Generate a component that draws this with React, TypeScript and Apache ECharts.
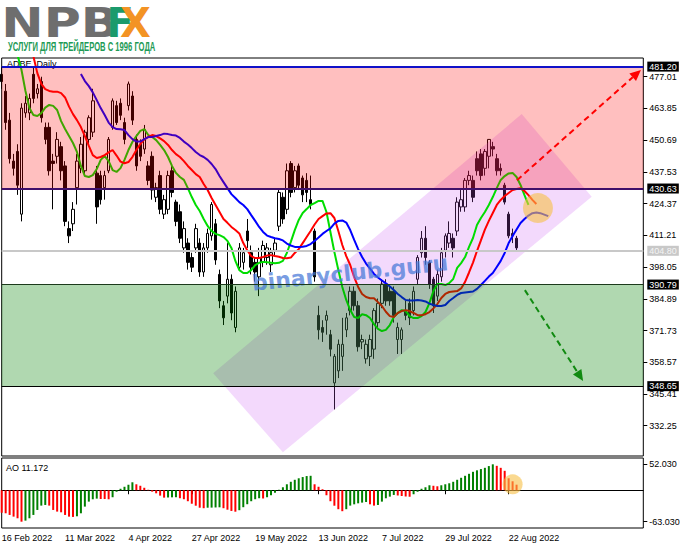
import React, { useEffect, useRef } from "react";
import * as echarts from "echarts";

// ---------------- categories (trading days) ----------------
const FIRST_DAY = "2022-02-16";
const HOLIDAYS = ["2022-02-21", "2022-04-15", "2022-05-30", "2022-06-20", "2022-07-04", "2022-09-05"];
const SLOT_COUNT = 163;
const LABEL_STEP = 16;
const MONTHS = ["Jan", "Feb", "Mar", "Apr", "May", "Jun", "Jul", "Aug", "Sep", "Oct", "Nov", "Dec"];

// ---------------- ADBE daily candles ----------------
const OPEN = [
  478, 471, 459, 442, 446, 420, 462, 462, 478, 470,
  475, 456, 456, 442, 444, 448, 440, 414, 416, 431,
  439, 438, 451, 454, 437, 436, 431, 438, 456, 465,
  466, 458, 465, 469, 451, 449, 447, 440, 444, 427,
  436, 420, 422, 438, 425, 421, 406, 408, 402, 406,
  408, 396, 406, 411, 416, 395, 382, 386, 393, 373,
  398, 400, 413, 404, 400, 394, 400, 402, 399, 405,
  415, 427, 422, 441, 431, 440, 435, 434, 426, 413,
  378, 373, 376, 370, 350, 355, 361, 372, 380, 388,
  382, 367, 360, 361, 364, 375, 383, 391, 388, 388,
  368, 368, 380, 383, 380, 393, 404, 410, 400, 393,
  386, 394, 405, 408, 410, 413, 423, 423, 434, 434,
  443, 445, 439, 444, 448, 443, 439, 432, 420, 412, 410,
];
const CLOSE = [
  475, 458, 443, 439, 432, 464, 466, 468, 468, 472,
  460, 451, 438, 441, 451, 438, 417, 411, 422, 442,
  449, 454, 460, 467, 423, 426, 436, 451, 467, 458,
  461, 451, 474, 459, 440, 444, 455, 434, 430, 431,
  422, 426, 436, 429, 417, 410, 414, 400, 398, 414,
  396, 406, 412, 424, 401, 384, 377, 393, 379, 388,
  406, 404, 409, 398, 396, 402, 407, 406, 404, 408,
  429, 418, 438, 429, 438, 432, 428, 429, 424, 394,
  372, 371, 378, 364, 361, 366, 366, 377, 388, 382,
  365, 368, 366, 368, 380, 383, 391, 384, 384, 378,
  373, 372, 378, 377, 388, 402, 410, 402, 391, 382,
  395, 404, 411, 412, 406, 425, 426, 434, 436, 427,
  438, 436, 446, 451, 447, 438, 438, 425, 411, 411, 406,
];
const LOW = [
  472, 455, 441, 436, 428, 417, 460, 459, 466, 468,
  458, 449, 436, 422, 441, 434, 415, 408, 413, 424,
  437, 436, 449, 452, 416, 424, 426, 437, 455, 457,
  459, 449, 463, 457, 438, 442, 445, 432, 426, 425,
  420, 418, 420, 427, 415, 408, 404, 397, 396, 404,
  394, 394, 404, 409, 399, 381, 374, 383, 376, 371,
  397, 397, 406, 395, 392, 386, 398, 399, 396, 403,
  413, 416, 420, 427, 429, 430, 425, 425, 422, 392,
  368, 367, 370, 361, 339, 352, 355, 369, 378, 380,
  363, 364, 358, 357, 360, 373, 381, 382, 382, 375,
  362, 362, 376, 374, 378, 391, 402, 399, 389, 379,
  384, 392, 402, 406, 402, 411, 421, 421, 432, 425,
  436, 434, 436, 439, 444, 436, 436, 424, 410, 408, 405,
];
const HIGH = [
  481, 474, 462, 445, 449, 466, 469, 470, 481, 474,
  477, 458, 458, 445, 454, 450, 442, 417, 425, 445,
  452, 455, 461, 472, 440, 438, 438, 452, 468, 467,
  468, 460, 475, 471, 453, 451, 457, 442, 446, 433,
  438, 428, 438, 440, 426, 424, 417, 410, 404, 416,
  410, 408, 414, 425, 418, 397, 384, 408, 395, 390,
  408, 406, 418, 407, 402, 406, 409, 408, 406, 410,
  430, 429, 441, 442, 440, 441, 436, 437, 436, 414,
  382, 376, 380, 372, 362, 368, 377, 379, 390, 390,
  384, 370, 368, 370, 381, 385, 393, 393, 390, 390,
  375, 373, 384, 385, 390, 403, 413, 415, 401, 394,
  397, 406, 412, 417, 412, 427, 430, 435, 438, 436,
  446, 447, 447, 451, 450, 445, 441, 433, 421, 414, 411,
];

// ---------------- Alligator (shifted lines) ----------------
const LIPS_START = 4;
const LIPS = [
  486, 479.8, 471.1, 464.0, 461.1, 460.7, 461.9, 464.2, 465.3, 464.9,
  463.2, 458.6, 455.3, 452.4, 449.5, 445.8, 440.0, 435.8, 435.4, 436.2,
  438.7, 442.5, 444.1, 442.0, 438.3, 437.5, 439.1, 442.5, 446.6, 449.9,
  452.4, 454.5, 455.3, 452.8, 452.0, 450.7, 448.7, 446.6, 443.7, 440.0,
  437.1, 435.4, 434.2, 430.8, 427.1, 423.8, 421.3, 418.0, 415.1, 413.0,
  411.8, 411.3, 410.5, 408.9, 406.0, 400.6, 396.8, 395.6, 395.6, 396.8,
  398.9, 399.8, 400.2, 400.0, 399.8, 399.6, 399.8, 400.6, 403.9, 408.5,
  413.4, 417.6, 420.5, 422.1, 423.8, 424.6, 425.5, 425.5, 420.9, 412.6,
  404.3, 396.8, 389.8, 384.4, 380.2, 377.3, 376.9, 378.5, 378.1, 376.9,
  374.4, 372.4, 371.5, 372.0, 374.0, 377.3, 379.0, 380.2, 379.8, 377.7,
  376.9, 376.9, 377.7, 379.4, 383.1, 388.1, 391.0, 391.0, 390.6, 391.4,
  393.1, 397.7, 399.7, 402.2, 406.4, 410.1, 415.5, 418.4, 420.9, 423.8,
  427.1, 430.8, 434.2, 435.8, 436.9, 437.1, 435.4, 432.1, 427.9, 423.8,
];
const TEETH_START = 8;
const TEETH = [
  485.5, 478.5, 474.0, 471.9, 471.1, 470.8, 470.8, 470.2, 468.4, 464.6,
  461.5, 459.0, 456.1, 452.4, 448.3, 444.5, 443.3, 443.7, 444.5, 445.6,
  446.6, 444.3, 441.8, 441.1, 441.6, 443.7, 446.6, 449.1, 451.0, 452.0,
  452.8, 452.4, 451.4, 450.3, 448.7, 446.6, 444.9, 443.7, 442.0, 440.0,
  438.3, 436.6, 435.4, 432.5, 430.0, 426.7, 423.8, 420.9, 418.0, 416.4,
  414.7, 413.4, 412.0, 408.0, 405.0, 402.6, 401.8, 401.8, 402.2, 402.8,
  403.0, 402.6, 402.3, 401.8, 401.7, 402.0, 403.9, 405.5, 408.0, 410.5,
  413.0, 415.7, 418.0, 419.2, 420.3, 420.4, 418.4, 413.0, 407.2, 402.6,
  398.9, 393.9, 389.8, 386.9, 385.6, 385.1, 385.1, 383.5, 381.9, 379.5,
  377.7, 377.3, 379.0, 379.8, 380.2, 379.8, 379.0, 378.1, 378.1, 378.5,
  379.4, 380.9, 382.7, 385.2, 386.9, 387.7, 387.9, 388.1, 389.2, 391.9,
  395.8, 399.9, 404.7, 409.1, 413.6, 417.2, 420.5, 423.8, 425.9, 427.5,
  428.8, 430.0, 430.4, 430.7, 429.6, 427.9, 425.9, 424.2,
];
const JAW_START = 20;
const JAW = [
  478.1, 475.2, 473.1, 470.5, 467.3, 464.0, 461.1, 458.0, 456.1, 455.3,
  455.2, 454.9, 452.8, 451.1, 450.1, 450.1, 451.1, 452.0, 452.0, 452.4,
  452.8, 453.4, 453.2, 452.8, 452.6, 451.6, 450.1, 448.9, 447.4, 445.8,
  444.5, 443.7, 442.5, 440.8, 438.7, 435.8, 433.3, 430.8, 428.3, 426.7,
  425.0, 423.8, 422.1, 419.6, 417.2, 414.7, 412.6, 411.1, 410.5, 410.0,
  409.7, 409.1, 407.8, 407.0, 406.4, 406.4, 406.5, 406.8, 407.6, 408.9,
  410.3, 411.8, 413.0, 414.1, 416.1, 417.2, 417.4, 416.5, 413.4, 409.3,
  405.5, 402.2, 399.5, 397.4, 395.2, 393.7, 392.5, 391.3, 390.0, 388.5,
  386.9, 385.6, 384.4, 384.2, 384.2, 384.4, 384.2, 383.8, 382.9, 382.3,
  381.9, 381.9, 382.3, 384.0, 385.2, 386.5, 387.3, 387.5, 387.7, 387.9,
  389.0, 390.6, 392.3, 394.1, 395.6, 398.1, 400.6, 403.9, 408.0, 410.9,
  413.6, 416.3, 418.0, 419.4, 420.4, 420.7, 420.4, 419.8, 419.2,
];

// ---------------- Awesome Oscillator ----------------
const AO = [
  -45, -46.2, -49.5, -52.9, -56.2, -63.03, -60.9, -56.2, -49.5, -39.5,
  -30.8, -29.5, -30.8, -39.5, -42.8, -44.2, -49.5, -52.9, -53.5, -52.2,
  -46.2, -32.8, -22.8, -18.1, -16.8, -17.5, -17.6, -18.1, -14, -3,
  3, 7, 11, 16, 12, 9, 5, 1, -2.8, -6.1,
  -10.8, -14.8, -14.5, -14.2, -14.0, -16, -18, -22, -27, -31,
  -35, -36, -35, -34.8, -34.5, -34.2, -36, -39, -41.5, -43,
  -40, -34, -28, -22, -18, -16, -16.5, -14, -10, -5,
  1, 6, 12, 17, 21, 24, 26.5, 28.5, 29, 12,
  7, 2, -10, -22, -31, -38, -42, -38, -30.8, -28.2,
  -26.2, -24.8, -23.5, -28.2, -30.8, -29.5, -22.8, -16.1, -12.8, -9.4,
  -10.5, -11.5, -12.5, -13, -8, -3, 3, 6, 10, 9,
  8, 10, 12, 14, 17, 21, 25, 29, 33, 37,
  40, 42.5, 45, 48.5, 52.03, 49, 45, 39, 24, 18, 11.172,
];
const AO_LAST_TEXT = "AO 11.172";

// ---------------- levels / ticks ----------------
const LEVELS = [481.2, 430.63, 404.8, 390.79, 348.65];
const FIB_LEVELS = [481.2, 430.63, 348.65];
const FIB_TEXT = ["38.2", "23.6", "0.0"];
const RED_ZONE = [481.2, 430.63];
const GREEN_ZONE = [390.79, 348.65];
const PRICE_TICKS = [477.01, 463.85, 450.69, 437.53, 424.37, 411.21, 398.05, 384.89, 371.73, 358.57, 345.41, 332.25];
const AO_TICKS = [52.03, -63.03];

// ---------------- hand-drawn objects (bar index, price) ----------------
const CHANNEL_X = [131.3, 148.97, 71.0, 53.4];
const CHANNEL_Y = [461.5, 427.2, 321.2, 354.0];
const UP_ARROW_X = [130.1, 161.4];
const UP_ARROW_Y = [434.1, 479.8];
const DOWN_ARROW_X = [132.1, 146.8];
const DOWN_ARROW_Y = [388.5, 350.8];
const MARK_MAIN = [135.4, 422.5];
const MARK_AO = [129.0, 11.9];

// ---------------- styles ----------------
const FONT = "Liberation Sans";
const LEVEL_LINE_COLORS = ["#1010c8", "#40106a", "#c8c8c8", "#1c3a1c", "#000000"];
const LEVEL_LINE_WIDTHS = [2, 2, 2, 1, 1];
const LEVEL_BOX = ["#000", "#000", "#c8c8c8", "#000", "#000"];
const LEVEL_TEXT = ["#fff", "#fff", "#f4f4f4", "#fff", "#fff"];

function buildDates(): string[] {
  const out: string[] = [];
  const d = new Date(FIRST_DAY + "T00:00:00Z");
  while (out.length < SLOT_COUNT) {
    const dow = d.getUTCDay();
    const iso = d.toISOString().slice(0, 10);
    if (dow !== 0 && dow !== 6 && HOLIDAYS.indexOf(iso) < 0) {
      out.push(`${d.getUTCDate()} ${MONTHS[d.getUTCMonth()]} ${d.getUTCFullYear()}`);
    }
    d.setUTCDate(d.getUTCDate() + 1);
  }
  return out;
}

function pad(start: number, values: number[]): (number | null)[] {
  const arr: (number | null)[] = [];
  for (let i = 0; i < start; i++) arr.push(null);
  return arr.concat(values);
}

function pt(api: any, i: number, v: number): number[] {
  const i0 = Math.floor(i);
  const a = api.coord([i0, v]);
  const b = api.coord([i0 + 1, v]);
  return [a[0] + (b[0] - a[0]) * (i - i0), a[1]];
}

function arrow(api: any, xs: number[], ys: number[], color: string): any[] {
  const p0 = pt(api, xs[0], ys[0]);
  const p1 = pt(api, xs[1], ys[1]);
  const dx = p1[0] - p0[0];
  const dy = p1[1] - p0[1];
  const len = Math.hypot(dx, dy);
  const ux = dx / len;
  const uy = dy / len;
  const head = 11;
  const half = 5;
  const base = [p1[0] - ux * head, p1[1] - uy * head];
  return [
    { type: "line", shape: { x1: p0[0], y1: p0[1], x2: base[0], y2: base[1] }, style: { stroke: color, lineWidth: 2, lineDash: [6, 4] } },
    {
      type: "polygon",
      shape: { points: [p1, [base[0] - uy * half, base[1] + ux * half], [base[0] + uy * half, base[1] - ux * half]] },
      style: { fill: color },
    },
  ];
}

function buildOption(): any {
  const dates = buildDates();
  const nBars = OPEN.length;
  const labelFilter = (index: number) => index % LABEL_STEP === 0 && index < nBars;
  const candles = OPEN.map((o, i) => [o, CLOSE[i], LOW[i], HIGH[i]]);
  const aoData = AO.map((v, i) => ({
    value: v,
    itemStyle: { color: i > 0 && v > AO[i - 1] ? "#008000" : "#ff0000" },
  }));

  const levelLines = LEVELS.map((lv, k) => ({
    yAxis: lv,
    lineStyle: { color: LEVEL_LINE_COLORS[k], width: LEVEL_LINE_WIDTHS[k], type: "solid" },
    label: {
      show: true,
      position: "end",
      formatter: lv.toFixed(2),
      backgroundColor: LEVEL_BOX[k],
      color: LEVEL_TEXT[k],
      padding: [1, 2, 0, 2],
      fontSize: 9,
      fontFamily: FONT,
      distance: 4,
    },
  }));
  const fibLabels = FIB_LEVELS.map((lv, k) => ({
    yAxis: lv,
    lineStyle: { opacity: 0, width: 0 },
    label: {
      show: true,
      position: "insideEndTop",
      formatter: FIB_TEXT[k],
      color: "#2a2ad0",
      fontSize: 9,
      fontFamily: FONT,
      distance: 1,
    },
  }));

  const xCommon = { type: "category", data: dates, boundaryGap: false };

  return {
    animation: false,
    backgroundColor: "#ffffff",
    textStyle: { fontFamily: FONT },
    grid: [
      { left: 1.7, top: 58, width: 641.6, height: 398, show: true, borderColor: "#000", borderWidth: 1, backgroundColor: "#fff", outerBoundsMode: "none" },
      { left: 1.7, top: 458, width: 641.6, height: 70, show: true, borderColor: "#000", borderWidth: 1, backgroundColor: "#fff", outerBoundsMode: "none" },
    ],
    xAxis: [
      { ...xCommon, gridIndex: 0, show: false },
      {
        ...xCommon,
        gridIndex: 1,
        axisLine: { show: true, lineStyle: { color: "#000", width: 1 } },
        axisTick: { show: true, length: 4, interval: labelFilter, lineStyle: { color: "#000" } },
        axisLabel: { interval: labelFilter, align: "left", margin: 5, fontSize: 9, color: "#000", fontFamily: FONT },
        splitLine: { show: false },
      },
    ],
    yAxis: [
      {
        gridIndex: 0,
        type: "value",
        position: "right",
        min: 319.68,
        max: 484.77,
        splitLine: { show: false },
        axisLine: { show: false },
        axisTick: { show: true, length: 4, customValues: PRICE_TICKS, lineStyle: { color: "#000" } },
        axisLabel: { customValues: PRICE_TICKS, formatter: (v: number) => v.toFixed(2), fontSize: 9, color: "#000", margin: 6, fontFamily: FONT },
      },
      {
        gridIndex: 1,
        type: "value",
        position: "right",
        min: -75.7,
        max: 64.7,
        splitLine: { show: false },
        axisLine: { show: false },
        axisTick: { show: true, length: 4, customValues: AO_TICKS, lineStyle: { color: "#000" } },
        axisLabel: { customValues: AO_TICKS, formatter: (v: number) => v.toFixed(3), fontSize: 9, color: "#000", margin: 6, fontFamily: FONT },
      },
    ],
    series: [
      {
        name: "ADBE",
        type: "candlestick",
        xAxisIndex: 0,
        yAxisIndex: 0,
        data: candles,
        barWidth: 3,
        z: 2,
        itemStyle: { color: "#ffffff", color0: "#000000", borderColor: "#000000", borderColor0: "#000000", borderWidth: 1 },
        markLine: {
          silent: true,
          symbol: ["none", "none"],
          z: 7,
          animation: false,
          data: [...levelLines, ...fibLabels],
        },
      },
      {
        name: "channel",
        type: "custom",
        xAxisIndex: 0,
        yAxisIndex: 0,
        z: 3,
        silent: true,
        data: [[0, 400]],
        renderItem: (_p: any, api: any) => ({
          type: "polygon",
          shape: { points: CHANNEL_X.map((x, k) => pt(api, x, CHANNEL_Y[k])) },
          style: { fill: "rgba(200,80,240,0.22)" },
        }),
      },
      {
        name: "Lips",
        type: "line",
        xAxisIndex: 0,
        yAxisIndex: 0,
        data: pad(LIPS_START, LIPS),
        symbol: "none",
        z: 4,
        lineStyle: { color: "#00dd00", width: 2 },
      },
      {
        name: "Teeth",
        type: "line",
        xAxisIndex: 0,
        yAxisIndex: 0,
        data: pad(TEETH_START, TEETH),
        symbol: "none",
        z: 4,
        lineStyle: { color: "#ff0000", width: 2 },
      },
      {
        name: "Jaw",
        type: "line",
        xAxisIndex: 0,
        yAxisIndex: 0,
        data: pad(JAW_START, JAW),
        symbol: "none",
        z: 4,
        lineStyle: { color: "#0000ff", width: 2 },
      },
      {
        name: "zones",
        type: "custom",
        xAxisIndex: 0,
        yAxisIndex: 0,
        z: 5,
        silent: true,
        data: [[0, 400]],
        renderItem: (params: any, api: any) => {
          const cs = params.coordSys;
          const rect = (top: number, bottom: number, fill: string) => {
            const y1 = api.coord([0, top])[1];
            const y2 = api.coord([0, bottom])[1];
            return { type: "rect", shape: { x: cs.x, y: y1, width: cs.width, height: y2 - y1 }, style: { fill } };
          };
          return {
            type: "group",
            children: [rect(RED_ZONE[0], RED_ZONE[1], "rgba(255,0,0,0.25)"), rect(GREEN_ZONE[0], GREEN_ZONE[1], "rgba(0,128,0,0.31)")],
          };
        },
      },
      {
        name: "arrows",
        type: "custom",
        xAxisIndex: 0,
        yAxisIndex: 0,
        z: 7,
        silent: true,
        data: [[0, 400]],
        renderItem: (_p: any, api: any) => ({
          type: "group",
          children: [...arrow(api, UP_ARROW_X, UP_ARROW_Y, "#ff0000"), ...arrow(api, DOWN_ARROW_X, DOWN_ARROW_Y, "#118a11")],
        }),
      },
      {
        name: "markMain",
        type: "custom",
        xAxisIndex: 0,
        yAxisIndex: 0,
        z: 8,
        silent: true,
        data: [[0, 400]],
        renderItem: (_p: any, api: any) => {
          const c = pt(api, MARK_MAIN[0], MARK_MAIN[1]);
          return { type: "circle", shape: { cx: c[0], cy: c[1], r: 15 }, style: { fill: "rgba(246,192,70,0.6)" } };
        },
      },
      {
        name: "AO",
        type: "bar",
        xAxisIndex: 1,
        yAxisIndex: 1,
        data: aoData,
        barWidth: 2,
        z: 2,
      },
      {
        name: "markAO",
        type: "custom",
        xAxisIndex: 1,
        yAxisIndex: 1,
        z: 8,
        silent: true,
        data: [[0, 0]],
        renderItem: (_p: any, api: any) => {
          const c = pt(api, MARK_AO[0], MARK_AO[1]);
          return { type: "circle", shape: { cx: c[0], cy: c[1], r: 10 }, style: { fill: "rgba(246,192,70,0.6)" } };
        },
      },
    ],
    graphic: {
      elements: [
        {
          type: "text",
          x: 1.3,
          y: 23,
          scaleX: 1.265,
          z: 10,
          style: { text: "NPB", fontSize: 40, fontWeight: "bold", fontFamily: "DejaVu Sans", fill: "#6e6e6e", align: "left", verticalAlign: "middle" },
        },
        {
          type: "text",
          x: 106.5,
          y: 23,
          z: 10,
          style: { text: "F", fontSize: 40, fontWeight: "bold", fontFamily: "DejaVu Sans", fill: "#1b9a6c", align: "left", verticalAlign: "middle" },
        },
        {
          type: "text",
          x: 120,
          y: 23,
          z: 11,
          style: { text: "X", fontSize: 40, fontWeight: "bold", fontFamily: "DejaVu Sans", fill: "#f39324", align: "left", verticalAlign: "middle" },
        },
        {
          type: "text",
          x: 8,
          y: 47,
          scaleX: 0.635,
          z: 10,
          style: { text: "УСЛУГИ ДЛЯ ТРЕЙДЕРОВ С 1996 ГОДА", fontSize: 12, fontWeight: "bold", fontFamily: FONT, fill: "#1e9b56", align: "left", verticalAlign: "middle" },
        },
        {
          type: "text",
          x: 7,
          y: 64,
          z: 1,
          style: { text: "ADBE, Daily", fontSize: 9, fontFamily: FONT, fill: "#000", align: "left", verticalAlign: "middle" },
        },
        {
          type: "text",
          x: 6,
          y: 468,
          z: 10,
          style: { text: AO_LAST_TEXT, fontSize: 9, fontFamily: FONT, fill: "#000", align: "left", verticalAlign: "middle" },
        },
        {
          type: "text",
          x: 350,
          y: 273,
          rotation: 0.105,
          z: 7,
          silent: true,
          style: { text: "binaryclub.guru", fontSize: 22, fontWeight: "bold", fontFamily: "DejaVu Sans", fill: "rgba(70,120,215,0.72)", align: "center", verticalAlign: "middle" },
        },
      ],
    },
  };
}

export default function App() {
  const ref = useRef<HTMLDivElement>(null);
  useEffect(() => {
    if (!ref.current) return;
    const chart = echarts.init(ref.current, null, { renderer: "svg" });
    chart.setOption(buildOption());
    return () => chart.dispose();
  }, []);
  return <div ref={ref} style={{ position: "fixed", left: 0, top: 0, width: 691, height: 549, background: "#fff" }} />;
}
